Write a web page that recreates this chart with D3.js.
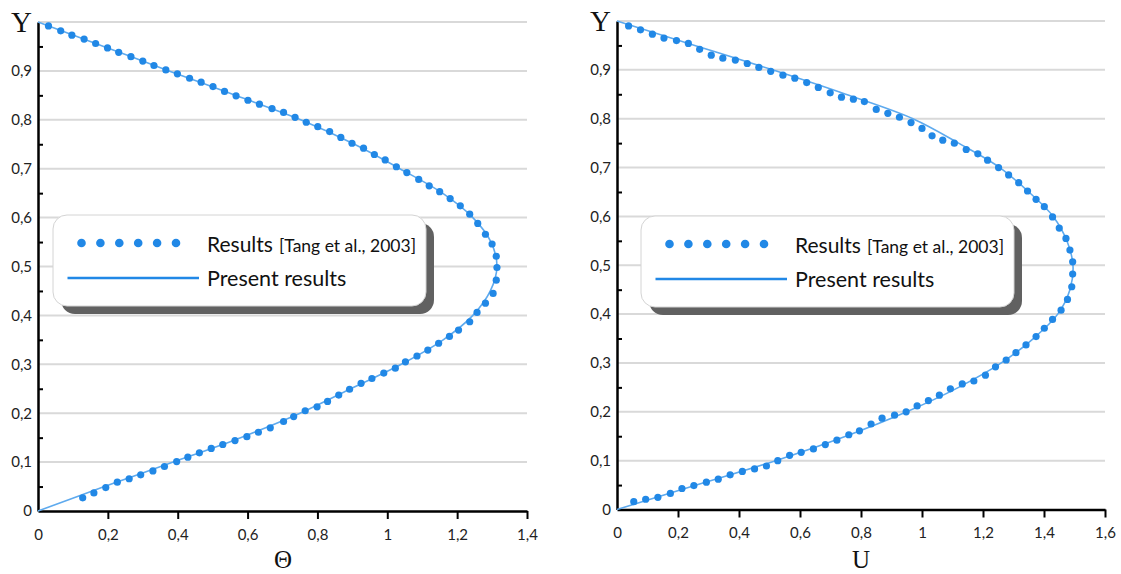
<!DOCTYPE html>
<html>
<head>
<meta charset="utf-8">
<script src="https://cdn.jsdelivr.net/npm/d3@7"></script>
<style>
  html, body { margin: 0; padding: 0; background: #fff; }
  svg { display: block; }
</style>
</head>
<body>
<div id="chart"></div>
<script>
"use strict";

// tick values
var yTickValues = [0, 0.1, 0.2, 0.3, 0.4, 0.5, 0.6, 0.7, 0.8, 0.9];
var yGridValues = [0.1, 0.2, 0.3, 0.4, 0.5, 0.6, 0.7, 0.8, 0.9, 1];
var yMinorValues = [0.05, 0.15, 0.25, 0.35, 0.45, 0.55, 0.65, 0.75, 0.85, 0.95];
var thetaTicks = [0, 0.2, 0.4, 0.6, 0.8, 1, 1.2, 1.4];
var uTicks = [0, 0.2, 0.4, 0.6, 0.8, 1, 1.2, 1.4, 1.6];

// present results, sampled along Y
var presentY = [0, 0.05, 0.1, 0.15, 0.2, 0.25, 0.3, 0.35, 0.4, 0.45, 0.5,
                0.55, 0.6, 0.65, 0.7, 0.75, 0.8, 0.85, 0.9, 0.95, 1];
var presentTheta = [0, 0.19, 0.387, 0.58, 0.75, 0.895, 1.04, 1.16, 1.245, 1.295, 1.314,
                    1.297, 1.245, 1.158, 1.036, 0.906, 0.752, 0.565, 0.375, 0.188, 0];
var presentU = [0, 0.26, 0.52, 0.75, 0.95, 1.12, 1.26, 1.365, 1.445, 1.485, 1.495,
                1.475, 1.43, 1.35, 1.255, 1.12, 0.97, 0.75, 0.51, 0.255, 0];

// Tang et al. 2003, [value, Y]
var tangTheta = [
  [0.030,0.992],[0.065,0.982],[0.097,0.973],[0.132,0.965],[0.165,0.956],[0.199,0.947],
  [0.231,0.938],[0.266,0.929],[0.300,0.920],[0.332,0.911],[0.366,0.902],[0.399,0.894],
  [0.434,0.885],[0.467,0.877],[0.501,0.868],[0.534,0.858],[0.567,0.849],[0.601,0.840],
  [0.634,0.832],[0.670,0.823],[0.703,0.815],[0.736,0.805],[0.768,0.795],[0.801,0.786],
  [0.835,0.776],[0.867,0.764],[0.899,0.752],[0.932,0.742],[0.963,0.729],[0.994,0.718],
  [1.026,0.704],[1.056,0.692],[1.090,0.678],[1.120,0.665],[1.150,0.653],[1.180,0.639],
  [1.209,0.624],[1.236,0.607],[1.259,0.588],[1.281,0.566],[1.300,0.546],[1.312,0.521],
  [1.314,0.498],[1.312,0.472],[1.303,0.445],[1.281,0.425],[1.257,0.406],[1.236,0.387],
  [1.204,0.370],[1.178,0.357],[1.147,0.343],[1.116,0.329],[1.085,0.317],[1.052,0.305],
  [1.023,0.292],[0.990,0.282],[0.956,0.271],[0.925,0.261],[0.892,0.249],[0.861,0.237],
  [0.829,0.224],[0.799,0.213],[0.765,0.205],[0.732,0.193],[0.703,0.183],[0.665,0.170],
  [0.631,0.161],[0.598,0.152],[0.564,0.144],[0.529,0.136],[0.496,0.128],[0.462,0.119],
  [0.429,0.110],[0.397,0.101],[0.362,0.091],[0.329,0.082],[0.294,0.074],[0.261,0.066],
  [0.227,0.059],[0.194,0.048],[0.160,0.037],[0.128,0.027]
];
var tangU = [
  [0.038,0.990],[0.077,0.982],[0.116,0.973],[0.154,0.965],[0.195,0.960],[0.234,0.954],
  [0.271,0.942],[0.309,0.930],[0.347,0.924],[0.388,0.920],[0.427,0.913],[0.465,0.905],
  [0.504,0.897],[0.544,0.889],[0.583,0.883],[0.622,0.874],[0.660,0.864],[0.699,0.853],
  [0.736,0.844],[0.775,0.840],[0.811,0.835],[0.850,0.819],[0.888,0.811],[0.926,0.803],
  [0.964,0.792],[1.000,0.780],[1.033,0.765],[1.068,0.756],[1.106,0.750],[1.145,0.737],
  [1.183,0.728],[1.215,0.715],[1.251,0.700],[1.284,0.685],[1.317,0.669],[1.346,0.652],
  [1.374,0.635],[1.401,0.620],[1.428,0.599],[1.450,0.576],[1.472,0.555],[1.485,0.531],
  [1.494,0.507],[1.494,0.482],[1.491,0.456],[1.477,0.430],[1.456,0.408],[1.428,0.389],
  [1.401,0.371],[1.374,0.354],[1.341,0.337],[1.308,0.321],[1.276,0.306],[1.241,0.292],
  [1.208,0.275],[1.170,0.263],[1.132,0.257],[1.093,0.247],[1.057,0.234],[1.021,0.223],
  [0.984,0.212],[0.948,0.200],[0.910,0.193],[0.869,0.187],[0.833,0.175],[0.795,0.161],
  [0.760,0.153],[0.721,0.142],[0.683,0.133],[0.644,0.124],[0.604,0.117],[0.566,0.111],
  [0.527,0.100],[0.490,0.089],[0.451,0.083],[0.411,0.078],[0.371,0.071],[0.332,0.062],
  [0.293,0.056],[0.252,0.049],[0.213,0.043],[0.175,0.033],[0.134,0.025],[0.094,0.021],
  [0.055,0.016]
];

var dotColor = "#2188e6",
    lineColor = "#5eaaee",
    numFont = "Lato, 'Open Sans', sans-serif",
    serifFont = "'Liberation Serif', 'DejaVu Serif', serif";

var svg = d3.select("#chart")
  .append("svg")
    .attr("width", 1121)
    .attr("height", 574);

// decimal comma like the original
var fmt = function(d) {
  if (Number.isInteger(d)) return String(d);
  return d.toFixed(1).replace(".", ",");
};

function drawPanel(p) {
  var x = d3.scaleLinear().domain(p.xDomain).range(p.xRange);
  var y = d3.scaleLinear().domain([0, 1]).range(p.yRange);
  var g = svg.append("g");

  // horizontal grid
  g.selectAll(".grid")
    .data(yGridValues)
    .enter()
    .append("line")
      .attr("x1", x(0))
      .attr("x2", x(p.xDomain[1]))
      .attr("y1", function(d) { return y(d); })
      .attr("y2", function(d) { return y(d); })
      .style("stroke", "#d9d9d9")
      .style("stroke-width", 2);

  // legend
  drawLegend(p.legendX, p.legendY);

  // x axis
  var xAxis = g.append("g")
    .attr("transform", "translate(0," + y(0) + ")")
    .call(d3.axisBottom(x)
      .tickValues(p.xTicks)
      .tickFormat(fmt)
      .tickSize(8)
      .tickSizeOuter(0)
      .tickPadding(10));
  xAxis.select(".domain").style("stroke", "#000").style("stroke-width", 2.5);
  xAxis.selectAll(".tick line").style("stroke", "#000").style("stroke-width", 2)
    .filter(function(d) { return d === 0; }).remove();
  xAxis.selectAll(".tick text")
    .style("font-family", numFont)
    .style("font-size", "15px")
    .style("fill", "#222");

  // y axis: minor ticks pointing inward
  var yAxis = g.append("g")
    .attr("transform", "translate(" + x(0) + ",0)")
    .call(d3.axisRight(y)
      .tickValues(yMinorValues)
      .tickFormat("")
      .tickSize(5)
      .tickSizeOuter(0));
  yAxis.select(".domain").style("stroke", "#000").style("stroke-width", 2.5);
  yAxis.selectAll(".tick line").style("stroke", "#000").style("stroke-width", 2);

  // y labels
  var yLabels = g.append("g")
    .attr("transform", "translate(" + x(0) + ",0)")
    .call(d3.axisLeft(y)
      .tickValues(yTickValues)
      .tickFormat(fmt)
      .tickSize(0)
      .tickPadding(6));
  yLabels.select(".domain").remove();
  yLabels.selectAll(".tick text")
    .style("font-family", numFont)
    .style("font-size", "15px")
    .style("fill", "#222");

  // axis titles
  g.append("text")
    .attr("x", x(0) - 6)
    .attr("y", y(1) + 10)
    .attr("text-anchor", "end")
    .style("font-family", serifFont)
    .style("font-size", "29px")
    .style("fill", "#111")
    .text("Y");
  g.append("text")
    .attr("x", p.xTitleX)
    .attr("y", 568)
    .attr("text-anchor", "middle")
    .style("font-family", serifFont)
    .style("font-size", "25px")
    .style("fill", "#111")
    .text(p.xTitle);

  // present results line
  var line = d3.line()
    .x(function(d) { return x(d[0]); })
    .y(function(d) { return y(d[1]); })
    .curve(d3.curveCatmullRom);
  g.append("path")
    .datum(p.present.map(function(v, i) { return [v, presentY[i]]; }))
    .attr("d", line)
    .style("fill", "none")
    .style("stroke", lineColor)
    .style("stroke-width", 1.6);

  // Tang et al. dots
  g.selectAll(".dot")
    .data(p.tang)
    .enter()
    .append("circle")
      .attr("cx", function(d) { return x(d[0]); })
      .attr("cy", function(d) { return y(d[1]); })
      .attr("r", 3.6)
      .style("fill", dotColor);
}

function drawLegend(lx, ly) {
  var w = 373, h = 91;
  var lg = svg.append("g").attr("transform", "translate(" + lx + "," + ly + ")");
  lg.append("rect")
    .attr("x", 8).attr("y", 8)
    .attr("width", w).attr("height", h)
    .attr("rx", 14).attr("ry", 14)
    .style("fill", "#616161");
  lg.append("rect")
    .attr("width", w).attr("height", h)
    .attr("rx", 14).attr("ry", 14)
    .style("fill", "#fff")
    .style("stroke", "#d4d4d4")
    .style("stroke-width", 1);

  lg.selectAll(".ldot")
    .data(d3.range(6))
    .enter()
    .append("circle")
      .attr("cx", function(i) { return 28.5 + i * 18.9; })
      .attr("cy", 28)
      .attr("r", 4.3)
      .style("fill", dotColor);
  lg.append("line")
    .attr("x1", 14.5).attr("x2", 146)
    .attr("y1", 63).attr("y2", 63)
    .style("stroke", dotColor)
    .style("stroke-width", 2.5);

  var t = lg.append("text")
    .attr("x", 154)
    .attr("y", 37)
    .style("font-family", numFont)
    .style("fill", "#111");
  t.append("tspan").style("font-size", "21px").text("Results");
  t.append("tspan").attr("dx", 6).style("font-size", "17.5px").text("[Tang et al., 2003]");

  lg.append("text")
    .attr("x", 154)
    .attr("y", 71)
    .style("font-family", numFont)
    .style("font-size", "21.5px")
    .style("fill", "#111")
    .text("Present results");
}

drawPanel({
  xDomain: [0, 1.4], xRange: [38, 527], yRange: [511, 22],
  xTicks: thetaTicks, xTitle: "\u0398", xTitleX: 283,
  present: presentTheta, tang: tangTheta,
  legendX: 53, legendY: 215
});

drawPanel({
  xDomain: [0, 1.6], xRange: [617, 1105], yRange: [509.5, 21],
  xTicks: uTicks, xTitle: "U", xTitleX: 861,
  present: presentU, tang: tangU,
  legendX: 641, legendY: 216
});
</script>
</body>
</html>
